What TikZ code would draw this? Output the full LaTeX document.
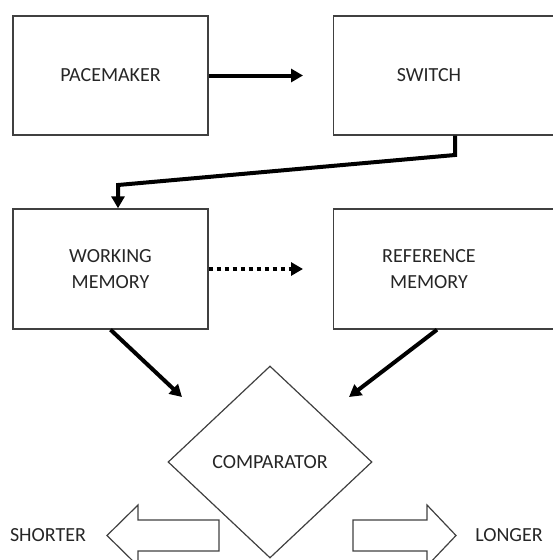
\documentclass[tikz,border=0pt]{standalone}
\usepackage{fontspec}
\setmainfont{Carlito}
\usetikzlibrary{arrows.meta,positioning,shapes.geometric,calc}
\tikzset{
    stagebox/.style={
        draw=black!75,
        line width=1.4pt,
        minimum height=119pt,
        inner sep=0pt,
        align=center
    },
    % thick black connectors
    thickarrow/.style={
        line width=4pt,
        black,
        -{Triangle[length=12pt, width=13pt]}
    },
    dotarrow/.style={
        line width=4pt,
        black,
        dash pattern=on 4pt off 4pt,
        -{Triangle[length=12pt, width=13pt]}
    },
    hollowarrow/.style={
        draw=black!75,
        line width=1.2pt,
        line join=miter
    }
}

\begin{document}
\begin{tikzpicture}[x=1pt, y=-1pt, font=\fontsize{20}{26}\selectfont, text=black!85]
	\useasboundingbox (0,0) rectangle (553,560);
	
	% boxes
	\node[stagebox, minimum width=195pt] (pacemaker) at (110.5,75.5) {PACEMAKER};
	\node[stagebox, minimum width=227pt, anchor=west] (switch) at (333,75.5) {};
	\node (switchtext) at (429,75.5) {SWITCH};
	\node[stagebox, minimum width=195pt, minimum height=120pt] (working) at (110.5,269) {WORKING\\MEMORY};
	\node[stagebox, minimum width=227pt, minimum height=120pt, anchor=west] (refmem) at (333,269) {};
	\node[align=center] (reftext) at (429,269) {REFERENCE\\MEMORY};
	
	% comparator
	\node[draw=black!75, line width=1.2pt, diamond, minimum width=204pt, minimum height=192pt, inner sep=0pt] (comparator) at (270,462) {COMPARATOR};
	
	\path
	(303,75.5) coordinate (c1)
	(455,155) coordinate (c2)
	(118,185) coordinate (c3)
	(303,269) coordinate (c4)
	(182,397) coordinate (c5)
	($(refmem.south west)+(104,0)$) coordinate (c6)
	(349,397) coordinate (c7);
	
	% connectors
	\draw[thickarrow] (pacemaker.east) -- (c1);
	\draw[thickarrow] (switch.south west -| c2) -- (c2) -- (c3) -- (c3 |- working.north);
	\draw[dotarrow] (working.east) -- (c4);
	\draw[thickarrow] (working.south) -- (c5);
	\draw[thickarrow] (c6) -- (c7);
	
	% outputs
	\draw[hollowarrow] (219,520) -- (138,520) -- (138,505) -- (107,535.5) -- (138,566) -- (138,551) -- (219,551) -- cycle;
	\draw[hollowarrow] (353,520) -- (427,520) -- (427,505) -- (456,535.5) -- (427,566) -- (427,551) -- (353,551) -- cycle;
	
	\node (shorter) at (48,535) {SHORTER};
	\node (longer) at (509,535) {LONGER};
\end{tikzpicture}
\end{document}
